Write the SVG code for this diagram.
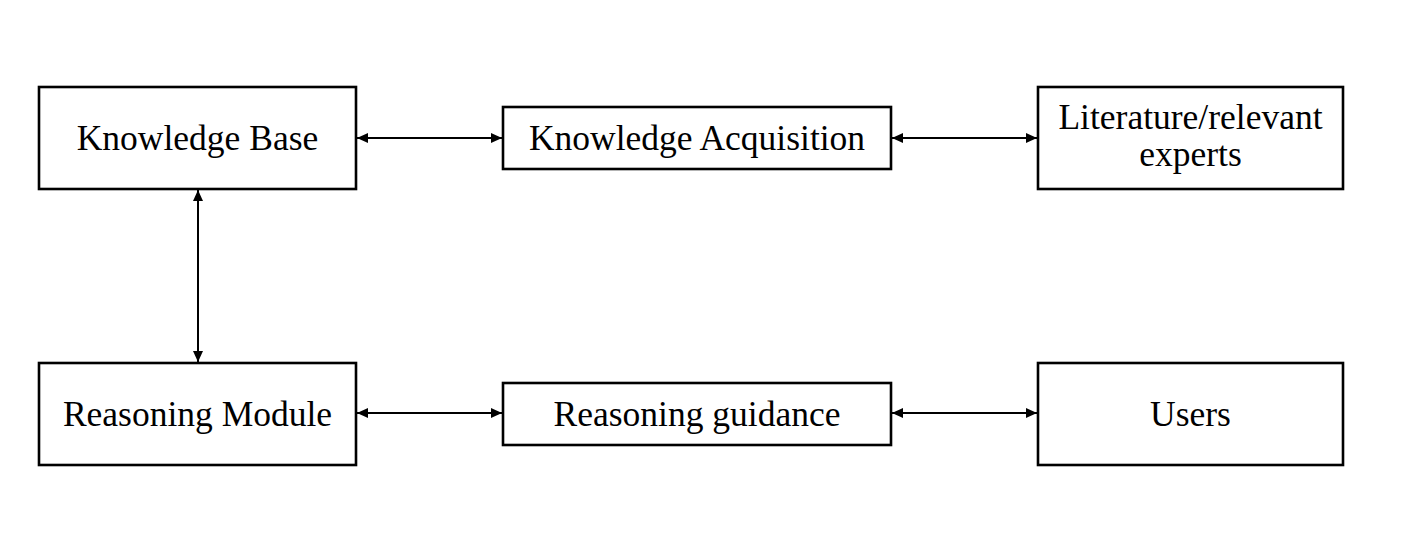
<svg xmlns="http://www.w3.org/2000/svg" width="1419" height="546" viewBox="0 0 1419 546">
<style>
.box{fill:#fff;stroke:#000;stroke-width:2.6}
.t{font-family:"Liberation Serif","Times New Roman",serif;font-size:35.5px;fill:#000;text-anchor:middle}
.c{stroke:#000;stroke-width:2;fill:none;marker-start:url(#ah);marker-end:url(#ah)}
</style>
<defs>
<marker id="ah" viewBox="0 0 11 10" refX="11" refY="5" markerWidth="11" markerHeight="10" markerUnits="userSpaceOnUse" orient="auto-start-reverse">
<path d="M0,0 L11,5 L0,10 Z" fill="#000"/>
</marker>
</defs>
<rect width="1419" height="546" fill="#fff"/>
<g id="connectors">
<line class="c" x1="357" y1="138" x2="502" y2="138"/>
<line class="c" x1="892" y1="138" x2="1037" y2="138"/>
<line class="c" x1="357" y1="413" x2="502" y2="413"/>
<line class="c" x1="892" y1="413" x2="1037" y2="413"/>
<line class="c" x1="198" y1="190" x2="198" y2="362"/>
</g>
<g id="kb"><rect class="box" x="39" y="87" width="317" height="102"/><text class="t" x="197.5" y="150">Knowledge Base</text></g>
<g id="ka"><rect class="box" x="503" y="107" width="388" height="62"/><text class="t" x="697" y="150">Knowledge Acquisition</text></g>
<g id="lit"><rect class="box" x="1038" y="87" width="305" height="102"/><text class="t" x="1190.5" y="129">Literature/relevant</text><text class="t" x="1190.5" y="166">experts</text></g>
<g id="rm"><rect class="box" x="39" y="363" width="317" height="102"/><text class="t" x="197.5" y="426">Reasoning Module</text></g>
<g id="rg"><rect class="box" x="503" y="383" width="388" height="62"/><text class="t" x="697" y="426">Reasoning guidance</text></g>
<g id="users"><rect class="box" x="1038" y="363" width="305" height="102"/><text class="t" x="1190.5" y="426">Users</text></g>
</svg>
